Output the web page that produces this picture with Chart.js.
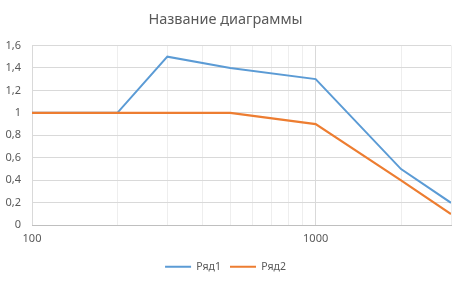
<!DOCTYPE html>
<html>
<head>
<meta charset="utf-8">
<script src="https://cdn.jsdelivr.net/npm/chart.js@4.4.0/dist/chart.umd.min.js"></script>
<style>
  html, body { margin: 0; padding: 0; background: #fff; }
  #wrap { width: 471px; height: 282px; }
</style>
</head>
<body>
<div id="wrap"><canvas id="lineChart" width="471" height="282"></canvas></div>
<script>
// values
const xValues = [100, 200, 300, 500, 1000, 2000, 3000];
const y1Values = [1, 1, 1.5, 1.4, 1.3, 0.5, 0.2];
const y2Values = [1, 1, 1, 1, 0.9, 0.4, 0.1];
const seriesNames = ["Ряд1", "Ряд2"];
const xTickValues = [100, 200, 300, 400, 500, 600, 700, 800, 900, 1000, 2000, 3000];
const xLabelValues = [100, 1000];

function toPoints(ys) {
    return xValues.map(function (x, i) { return { x: x, y: ys[i] }; });
}

const grey = "#595959";
const font = "'Noto Sans', 'Open Sans', sans-serif";

const myChart = new Chart("lineChart", {
    type: "line",
    data: {
        datasets: [{
            label: seriesNames[0],
            data: toPoints(y1Values),
            borderColor: "#5B9BD5",
            backgroundColor: "#5B9BD5",
            borderWidth: 2,
            pointRadius: 0,
            tension: 0,
            order: 2
        }, {
            label: seriesNames[1],
            data: toPoints(y2Values),
            borderColor: "#ED7D31",
            backgroundColor: "#ED7D31",
            borderWidth: 2.2,
            pointRadius: 0,
            tension: 0,
            order: 1
        }]
    },
    options: {
        responsive: false,
        animation: false,
        layout: { padding: { left: 0, right: 20, top: 0, bottom: 0 } },
        plugins: {
            title: {
                display: true,
                text: "Название диаграммы",
                color: grey,
                font: { family: font, size: 14.5, weight: "normal" },
                padding: { top: 11, bottom: 17 }
            },
            legend: {
                position: "bottom",
                labels: {
                    color: grey,
                    font: { family: font, size: 10.5 },
                    usePointStyle: true,
                    pointStyle: "line",
                    pointStyleWidth: 26,
                    boxHeight: 11,
                    padding: 9,
                    sort: function (a, b) { return a.datasetIndex - b.datasetIndex; }
                }
            },
            tooltip: { enabled: false }
        },
        scales: {
            x: {
                type: "logarithmic",
                min: 100,
                max: 3000,
                afterBuildTicks: function (scale) {
                    scale.ticks = xTickValues.map(function (v) { return { value: v }; });
                },
                ticks: {
                    autoSkip: false,
                    maxRotation: 0,
                    color: grey,
                    padding: 7,
                    font: { family: font, size: 11 },
                    callback: function (value) {
                        return xLabelValues.indexOf(value) >= 0 ? String(value) : "";
                    }
                },
                grid: {
                    drawTicks: false,
                    color: function (ctx) {
                        const v = ctx.tick && ctx.tick.value;
                        return (v === 100 || v === 1000) ? "#d9d9d9" : "#eeeeee";
                    }
                },
                border: { color: "#bfbfbf", width: 1 }
            },
            y: {
                min: 0,
                max: 1.6,
                afterFit: function (scale) { scale.width = 32; },
                ticks: {
                    stepSize: 0.2,
                    color: grey,
                    padding: 11,
                    font: { family: font, size: 11 },
                    callback: function (value) {
                        return String(Number(value.toFixed(1))).replace(".", ",");
                    }
                },
                grid: { drawTicks: false, color: "#d9d9d9" },
                border: { display: false }
            }
        }
    }
});
</script>
</body>
</html>
